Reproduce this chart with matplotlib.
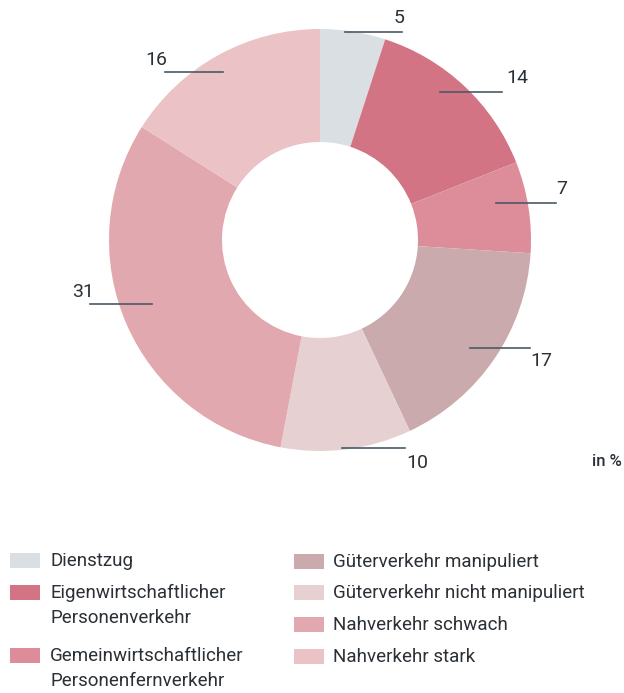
import matplotlib
matplotlib.use("Agg")
import matplotlib.pyplot as plt
from matplotlib.patches import Rectangle

categories = ["Dienstzug", "Eigenwirtschaftlicher\nPersonenverkehr",
              "Gemeinwirtschaftlicher\nPersonenfernverkehr",
              "Güterverkehr manipuliert", "Güterverkehr nicht manipuliert",
              "Nahverkehr schwach", "Nahverkehr stark"]
values = [5, 14, 7, 17, 10, 31, 16]
value_labels = ["5", "14", "7", "17", "10", "31", "16"]
colors = ["#d9dfe3", "#d37484", "#dd8d99", "#cbaaad", "#e6d0d1", "#e1a9af", "#ebc3c7"]

plt.rcParams['font.family'] = ['Roboto', 'DejaVu Sans']
W, H = 624, 693
fig = plt.figure(figsize=(W / 100, H / 100), dpi=100)
ax = fig.add_axes([0, 0, 1, 1])

def Y(py):
    return H - py

cx, cy, R = 320, 240, 211
ax.pie(values, colors=colors, startangle=90, counterclock=False,
       center=(cx, Y(cy)), radius=R,
       wedgeprops=dict(width=R - 98, linewidth=0))
ax.set_xlim(0, W)
ax.set_ylim(0, H)
ax.set_aspect('equal')
ax.axis('off')

txt = "#2a3035"
line_c = "#4a5a66"
# label text position (x, y), leader line (x0, x1, y)
label_pos = [
    ((404, 18), (345, 402, 32)),
    ((528, 78), (440, 502, 92)),
    ((567, 189), (496, 556, 203)),
    ((552, 361), (470, 530, 348)),
    ((428, 463), (342, 405, 448)),
    ((94, 292), (90, 152, 304)),
    ((167, 60), (165, 223, 72)),
]
for lab, (tp, lp) in zip(value_labels, label_pos):
    ax.plot([lp[0], lp[1]], [Y(lp[2]), Y(lp[2])], color=line_c, lw=1.2)
    ax.text(tp[0], Y(tp[1]), lab, ha='right', va='center', fontsize=14, color=txt)

ax.text(622, Y(461), "in %", ha='right', va='center', fontsize=12,
        fontweight='medium', color=txt)

# legend
left_rows = [(0, 560), (1, 592), (2, 655)]
right_rows = [(3, 561), (4, 592), (5, 624), (6, 656)]
for idx, py in left_rows:
    ax.add_patch(Rectangle((10, Y(py) - 7.5), 30, 15, color=colors[idx], lw=0))
    for k, l in enumerate(categories[idx].split('\n')):
        ax.text(50, Y(py + 1 + k * 25), l, ha='left', va='center', fontsize=13.5, color=txt)
for idx, py in right_rows:
    ax.add_patch(Rectangle((294, Y(py) - 7.5), 30, 15, color=colors[idx], lw=0))
    ax.text(333, Y(py + 1), categories[idx], ha='left', va='center', fontsize=13.5, color=txt)

fig.savefig("out.png", dpi=100)
